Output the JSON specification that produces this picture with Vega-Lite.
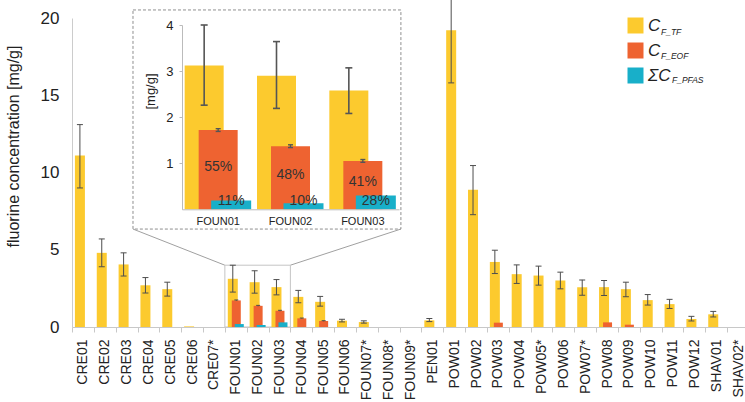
{
  "$schema": "https://vega.github.io/schema/vega-lite/v6.json",
  "width": 677,
  "height": 309,
  "autosize": {"type": "none"},
  "padding": {"left": 72, "top": 18, "right": 0, "bottom": 75},
  "background": "white",
  "config": {
    "view": {"stroke": null},
    "font": "Liberation Sans",
    "axis": {"grid": false, "labelFont": "Liberation Sans", "titleFont": "Liberation Sans"},
    "legend": {"labelFont": "Liberation Sans"}
  },
  "datasets": {
    "d": [
      {"c": "CRE01", "tf": 11.1, "tl": 9.0, "th": 13.1},
      {"c": "CRE02", "tf": 4.8, "tl": 3.9, "th": 5.7},
      {"c": "CRE03", "tf": 4.05, "tl": 3.3, "th": 4.8},
      {"c": "CRE04", "tf": 2.7, "tl": 2.2, "th": 3.2},
      {"c": "CRE05", "tf": 2.45, "tl": 2.0, "th": 2.9},
      {"c": "CRE06", "tf": 0.04},
      {"c": "CRE07*"},
      {"c": "FOUN01", "tf": 3.12, "tl": 2.26, "th": 4.0, "eof": 1.72, "el": 1.69, "eh": 1.75, "pfas": 0.19, "ep": "55%", "pp": "11%"},
      {"c": "FOUN02", "tf": 2.9, "tl": 2.19, "th": 3.64, "eof": 1.37, "el": 1.34, "eh": 1.4, "pfas": 0.13, "ep": "48%", "pp": "10%"},
      {"c": "FOUN03", "tf": 2.58, "tl": 2.08, "th": 3.07, "eof": 1.05, "el": 1.02, "eh": 1.08, "pfas": 0.3, "ep": "41%", "pp": "28%"},
      {"c": "FOUN04", "tf": 1.95, "tl": 1.57, "th": 2.37, "eof": 0.56, "el": 0.54, "eh": 0.58},
      {"c": "FOUN05", "tf": 1.63, "tl": 1.35, "th": 1.98, "eof": 0.39, "el": 0.37, "eh": 0.41},
      {"c": "FOUN06", "tf": 0.41, "tl": 0.33, "th": 0.5},
      {"c": "FOUN07*", "tf": 0.32, "tl": 0.25, "th": 0.4},
      {"c": "FOUN08*"},
      {"c": "FOUN09*"},
      {"c": "PEN01", "tf": 0.43, "tl": 0.35, "th": 0.55},
      {"c": "POW01", "tf": 19.2, "tl": 15.8, "th": 22.6},
      {"c": "POW02", "tf": 8.88, "tl": 7.27, "th": 10.45},
      {"c": "POW03", "tf": 4.21, "tl": 3.46, "th": 4.97, "eof": 0.28},
      {"c": "POW04", "tf": 3.42, "tl": 2.82, "th": 4.02},
      {"c": "POW05*", "tf": 3.33, "tl": 2.71, "th": 3.94},
      {"c": "POW06", "tf": 3.01, "tl": 2.47, "th": 3.55},
      {"c": "POW07*", "tf": 2.58, "tl": 2.06, "th": 3.05},
      {"c": "POW08", "tf": 2.58, "tl": 2.04, "th": 3.01, "eof": 0.3},
      {"c": "POW09", "tf": 2.45, "tl": 1.96, "th": 2.9, "eof": 0.15},
      {"c": "POW10", "tf": 1.74, "tl": 1.42, "th": 2.1},
      {"c": "POW11", "tf": 1.48, "tl": 1.2, "th": 1.79},
      {"c": "POW12", "tf": 0.52, "tl": 0.39, "th": 0.69},
      {"c": "SHAV01", "tf": 0.82, "tl": 0.65, "th": 1.01},
      {"c": "SHAV02*"}
    ]
  },
  "layer": [
    {
      "layer": [
        {
          "data": {"values": [{}]},
          "mark": {"type": "rect", "fill": "white", "stroke": "#8f8f8f", "strokeDash": [3, 2], "strokeWidth": 1},
          "encoding": {
            "x": {"datum": "CRE03", "type": "nominal", "bandPosition": 0.793},
            "x2": {"datum": "FOUN09*", "bandPosition": 0.06},
            "y": {"datum": 6.34, "type": "quantitative"},
            "y2": {"datum": 20.52}
          }
        },
        {
          "data": {"values": [{}]},
          "mark": {"type": "rule", "color": "#a0a0a0", "strokeWidth": 1},
          "encoding": {
            "x": {"datum": "FOUN01", "type": "nominal", "bandPosition": 0},
            "x2": {"datum": "CRE03", "bandPosition": 0.793},
            "y": {"datum": 4, "type": "quantitative"},
            "y2": {"datum": 6.34}
          }
        },
        {
          "data": {"values": [{}]},
          "mark": {"type": "rule", "color": "#a0a0a0", "strokeWidth": 1},
          "encoding": {
            "x": {"datum": "FOUN03", "type": "nominal", "bandPosition": 1},
            "x2": {"datum": "FOUN09*", "bandPosition": 0.06},
            "y": {"datum": 4, "type": "quantitative"},
            "y2": {"datum": 6.34}
          }
        },
        {
          "data": {"values": [{}]},
          "mark": {"type": "rect", "fill": null, "fillOpacity": 0, "stroke": "#c4c4c4", "strokeWidth": 1},
          "encoding": {
            "x": {"datum": "FOUN01", "type": "nominal", "bandPosition": 0},
            "x2": {"datum": "FOUN03", "bandPosition": 1},
            "y": {"datum": 0, "type": "quantitative"},
            "y2": {"datum": 4}
          }
        },
        {
          "data": {"name": "d"},
          "mark": {"type": "bar", "width": 10, "xOffset": -3},
          "encoding": {
            "x": {
              "field": "c", "type": "nominal", "sort": null,
              "scale": {"domain": ["CRE01","CRE02","CRE03","CRE04","CRE05","CRE06","CRE07*","FOUN01","FOUN02","FOUN03","FOUN04","FOUN05","FOUN06","FOUN07*","FOUN08*","FOUN09*","PEN01","POW01","POW02","POW03","POW04","POW05*","POW06","POW07*","POW08","POW09","POW10","POW11","POW12","SHAV01","SHAV02*"], "paddingInner": 0, "paddingOuter": 0},
              "axis": {"orient": "bottom", "title": null, "labelAngle": -90, "labelAlign": "right", "labelBaseline": "middle", "labelFontSize": 14, "labelColor": "#222", "labelPadding": 7, "tickBand": "extent", "tickSize": 5, "tickColor": "#c8c8c8", "domainColor": "#c8c8c8", "labelOverlap": false}
            },
            "y": {
              "field": "tf", "type": "quantitative",
              "scale": {"domain": [0, 20], "nice": false},
              "axis": {"orient": "left", "title": "fluorine concentration [mg/g]", "values": [0, 5, 10, 15, 20], "ticks": false, "domainColor": "#cccccc", "labelFontSize": 17, "labelPadding": 13, "labelColor": "#222", "titleFontSize": 16, "titleFontWeight": "normal", "titleColor": "#222", "titleX": -59, "titleY": 128, "titleAngle": -90, "titleAlign": "center", "titleBaseline": "middle"}
            },
            "fill": {
              "datum": "C_F_TF", "type": "nominal",
              "scale": {"domain": ["C_F_TF", "C_F_EOF", "ΣC_F_PFAS"], "range": ["#FCCA2E", "#EE6331", "#18AFC9"]},
              "legend": {"orient": "none", "legendX": 555, "legendY": -1, "title": null, "direction": "vertical", "symbolType": "square", "symbolSize": 256, "symbolStrokeWidth": 0, "symbolOpacity": 1, "labelFontSize": 17, "labelFontStyle": "italic", "labelColor": "#222", "labelOffset": 4, "rowPadding": 7, "padding": 0, "labelExpr": "split(datum.label, '_')[0]"}
            }
          }
        },
        {
          "data": {"name": "d"},
          "mark": {"type": "bar", "width": 9, "xOffset": 0.5},
          "encoding": {
            "x": {"field": "c", "type": "nominal", "sort": null},
            "y": {"field": "eof", "type": "quantitative"},
            "fill": {"datum": "C_F_EOF", "type": "nominal"}
          }
        },
        {
          "data": {"name": "d"},
          "mark": {"type": "bar", "width": 9, "xOffset": 3.5},
          "encoding": {
            "x": {"field": "c", "type": "nominal", "sort": null},
            "y": {"field": "pfas", "type": "quantitative"},
            "fill": {"datum": "ΣC_F_PFAS", "type": "nominal"}
          }
        },
        {
          "data": {"name": "d"},
          "mark": {"type": "rule", "color": "#4d4d4d", "strokeWidth": 1, "xOffset": -3},
          "encoding": {
            "x": {"field": "c", "type": "nominal", "sort": null},
            "y": {"field": "tl", "type": "quantitative"},
            "y2": {"field": "th"}
          }
        },
        {
          "data": {"name": "d"},
          "mark": {"type": "tick", "orient": "horizontal", "size": 6, "thickness": 1, "color": "#4d4d4d", "xOffset": -3, "opacity": 1},
          "encoding": {
            "x": {"field": "c", "type": "nominal", "sort": null},
            "y": {"field": "tl", "type": "quantitative"}
          }
        },
        {
          "data": {"name": "d"},
          "mark": {"type": "tick", "orient": "horizontal", "size": 6, "thickness": 1, "color": "#4d4d4d", "xOffset": -3, "opacity": 1},
          "encoding": {
            "x": {"field": "c", "type": "nominal", "sort": null},
            "y": {"field": "th", "type": "quantitative"}
          }
        },
        {
          "data": {"name": "d"},
          "mark": {"type": "rule", "color": "#4d4d4d", "strokeWidth": 1, "xOffset": 0.5},
          "encoding": {
            "x": {"field": "c", "type": "nominal", "sort": null},
            "y": {"field": "el", "type": "quantitative"},
            "y2": {"field": "eh"}
          }
        },
        {
          "data": {"name": "d"},
          "mark": {"type": "tick", "orient": "horizontal", "size": 4, "thickness": 1, "color": "#4d4d4d", "xOffset": 0.5, "opacity": 1},
          "encoding": {
            "x": {"field": "c", "type": "nominal", "sort": null},
            "y": {"field": "eh", "type": "quantitative"}
          }
        },
        {
          "data": {"values": [{}]},
          "mark": {"type": "point", "opacity": 0},
          "encoding": {
            "shape": {
              "datum": "F_TF", "type": "nominal",
              "scale": {"domain": ["F_TF", "F_EOF"], "range": ["square", "square"]},
              "legend": {"orient": "none", "legendX": 555, "legendY": 6, "title": null, "direction": "vertical", "symbolSize": 256, "symbolOpacity": 0, "symbolStrokeWidth": 0, "labelFontSize": 8.5, "labelFontStyle": "italic", "labelColor": "#222", "labelOffset": 18, "rowPadding": 8, "padding": 0}
            }
          }
        },
        {
          "data": {"values": [{}]},
          "mark": {"type": "point", "opacity": 0},
          "encoding": {
            "strokeDash": {
              "datum": "F_PFAS", "type": "nominal",
              "scale": {"domain": ["F_PFAS"]},
              "legend": {"orient": "none", "legendX": 566, "legendY": 54, "title": null, "direction": "vertical", "symbolType": "square", "symbolSize": 256, "symbolOpacity": 0, "symbolStrokeWidth": 0, "labelFontSize": 8.5, "labelFontStyle": "italic", "labelColor": "#222", "labelOffset": 18, "padding": 0}
            }
          }
        }
      ]
    },
    {
      "data": {"name": "d"},
      "transform": [{"filter": {"field": "c", "oneOf": ["FOUN01", "FOUN02", "FOUN03"]}}],
      "layer": [
        {
          "layer": [
            {
              "mark": {"type": "bar", "width": 39, "xOffset": -14, "color": "#FCCA2E"},
              "encoding": {
                "x": {
                  "field": "c", "type": "nominal", "sort": null,
                  "scale": {"domain": ["FOUN01", "FOUN02", "FOUN03"], "range": [110, 327], "paddingInner": 0, "paddingOuter": 0},
                  "axis": {"orient": "bottom", "offset": -117.7, "zindex": 2, "title": null, "labelAngle": 0, "labelFontSize": 11, "labelColor": "#222", "labelPadding": 6, "ticks": false, "domainColor": "#bbbbbb"}
                },
                "y": {
                  "field": "tf", "type": "quantitative",
                  "scale": {"domain": [0, 4], "range": [191.3, 7], "nice": false},
                  "axis": {"orient": "left", "offset": -110, "zindex": 2, "values": [1, 2, 3, 4], "format": "d", "title": "[mg/g]", "titleFontSize": 13, "titleFontWeight": "normal", "titleColor": "#222", "titleX": -32, "titleY": 73, "titleAngle": -90, "titleAlign": "center", "titleBaseline": "middle", "labelFontSize": 13, "labelColor": "#222", "labelPadding": 6, "tickSize": 3, "tickColor": "#bbbbbb", "domainColor": "#bbbbbb"}
                }
              }
            },
            {
              "mark": {"type": "bar", "width": 39, "xOffset": 0, "color": "#EE6331"},
              "encoding": {
                "x": {"field": "c", "type": "nominal", "sort": null},
                "y": {"field": "eof", "type": "quantitative"}
              }
            },
            {
              "mark": {"type": "bar", "width": 40, "xOffset": 13, "color": "#18AFC9"},
              "encoding": {
                "x": {"field": "c", "type": "nominal", "sort": null},
                "y": {"field": "pfas", "type": "quantitative"}
              }
            },
            {
              "mark": {"type": "rule", "color": "#555555", "strokeWidth": 1.6, "xOffset": -14},
              "encoding": {
                "x": {"field": "c", "type": "nominal", "sort": null},
                "y": {"field": "tl", "type": "quantitative"},
                "y2": {"field": "th"}
              }
            },
            {
              "mark": {"type": "tick", "orient": "horizontal", "size": 7, "thickness": 1.6, "color": "#555555", "xOffset": -14, "opacity": 1},
              "encoding": {
                "x": {"field": "c", "type": "nominal", "sort": null},
                "y": {"field": "tl", "type": "quantitative"}
              }
            },
            {
              "mark": {"type": "tick", "orient": "horizontal", "size": 7, "thickness": 1.6, "color": "#555555", "xOffset": -14, "opacity": 1},
              "encoding": {
                "x": {"field": "c", "type": "nominal", "sort": null},
                "y": {"field": "th", "type": "quantitative"}
              }
            },
            {
              "mark": {"type": "rule", "color": "#555555", "strokeWidth": 1.4, "xOffset": 0},
              "encoding": {
                "x": {"field": "c", "type": "nominal", "sort": null},
                "y": {"field": "el", "type": "quantitative"},
                "y2": {"field": "eh"}
              }
            },
            {
              "mark": {"type": "tick", "orient": "horizontal", "size": 5, "thickness": 1.4, "color": "#555555", "xOffset": 0, "opacity": 1},
              "encoding": {
                "x": {"field": "c", "type": "nominal", "sort": null},
                "y": {"field": "el", "type": "quantitative"}
              }
            },
            {
              "mark": {"type": "tick", "orient": "horizontal", "size": 5, "thickness": 1.4, "color": "#555555", "xOffset": 0, "opacity": 1},
              "encoding": {
                "x": {"field": "c", "type": "nominal", "sort": null},
                "y": {"field": "eh", "type": "quantitative"}
              }
            },
            {
              "mark": {"type": "text", "fontSize": 14, "color": "#333333", "dy": -8, "xOffset": 13, "font": "Liberation Sans"},
              "encoding": {
                "x": {"field": "c", "type": "nominal", "sort": null},
                "y": {"datum": 0, "type": "quantitative"},
                "text": {"field": "pp"}
              }
            }
          ]
        },
        {
          "mark": {"type": "text", "fontSize": 14, "color": "#333333", "dy": -3, "font": "Liberation Sans"},
          "encoding": {
            "x": {"field": "c", "type": "nominal", "sort": null},
            "y": {"field": "eof", "type": "quantitative", "scale": {"domain": [0, 8], "range": [191.3, 7], "nice": false}, "axis": null},
            "text": {"field": "ep"}
          }
        }
      ],
      "resolve": {"scale": {"y": "independent"}}
    }
  ],
  "resolve": {"scale": {"x": "independent", "y": "independent"}}
}
